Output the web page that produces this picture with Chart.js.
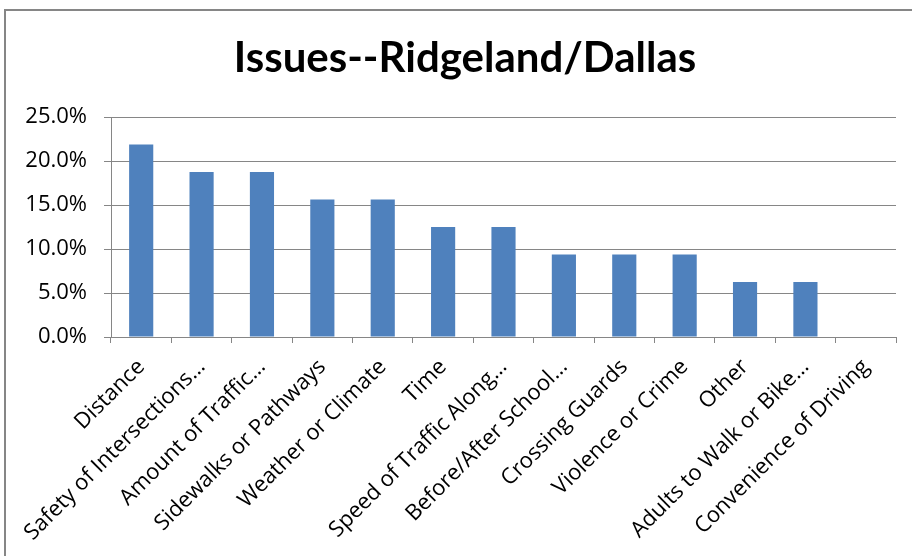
<!DOCTYPE html>
<html>
<head>
<meta charset="utf-8">
<script src="https://cdn.jsdelivr.net/npm/chart.js@4"></script>
<style>
html,body{margin:0;padding:0;background:#fff;}
#wrap{width:912px;height:556px;position:relative;}
</style>
</head>
<body>
<div id="wrap"><canvas id="c" width="912" height="556"></canvas></div>
<script>
const chartTitle = "Issues--Ridgeland/Dallas";
const categories = ["Distance","Safety of Intersections…","Amount of Traffic…","Sidewalks or Pathways","Weather or Climate","Time","Speed of Traffic Along…","Before/After School…","Crossing Guards","Violence or Crime","Other","Adults to Walk or Bike…","Convenience of Driving"];
const values = [0.21875,0.1875,0.1875,0.15625,0.15625,0.125,0.125,0.09375,0.09375,0.09375,0.0625,0.0625,0];
const yTicks = [0,0.05,0.10,0.15,0.20,0.25];

const FONT = "'Open Sans', Lato, sans-serif";
const frame = {
  id:'frame',
  beforeDraw(chart){
    const ctx = chart.ctx;
    ctx.save();
    ctx.fillStyle='#fff';
    ctx.fillRect(0,0,chart.width,chart.height);
    ctx.strokeStyle='#868686';
    ctx.lineWidth=2;
    ctx.strokeRect(5,10,1000,1000);
    ctx.restore();
  },
  afterDraw(chart){
    const ctx = chart.ctx;
    ctx.save();
    ctx.fillStyle='#000';
    ctx.font="bold 42px Lato, sans-serif";
    ctx.textAlign='center';
    ctx.textBaseline='alphabetic';
    ctx.fillText(chartTitle,465,72);
    ctx.restore();
  }
};

new Chart(document.getElementById('c'),{
  type:'bar',
  data:{labels:categories,datasets:[{data:values,backgroundColor:'#4F81BD',borderWidth:0,categoryPercentage:1,barPercentage:0.4}]},
  options:{
    responsive:false,animation:false,
    layout:{padding:{left:6,right:16,top:117,bottom:0}},
    plugins:{
      legend:{display:false},
      tooltip:{enabled:false},
      title:{display:false}
    },
    scales:{
      x:{
        afterFit(axis){axis.height=219;},
        grid:{display:true,drawOnChartArea:false,drawTicks:true,tickLength:6,color:'#868686',offset:true},
        border:{display:true,color:'#868686',width:1},
        ticks:{color:'#000',font:{family:FONT,size:22},minRotation:45,maxRotation:45,autoSkip:false,padding:11}
      },
      y:{
        min:0,max:0.25,
        afterBuildTicks(axis){axis.ticks=yTicks.map(v=>({value:v}));},
        afterFit(axis){axis.width=105;},
        grid:{color:'#868686',drawTicks:true,tickLength:7},
        border:{display:true,color:'#868686',width:1},
        ticks:{color:'#000',font:{family:FONT,size:22},padding:17,callback:v=>(v*100).toFixed(1)+'%'}
      }
    }
  },
  plugins:[frame]
});
</script>
</body>
</html>
